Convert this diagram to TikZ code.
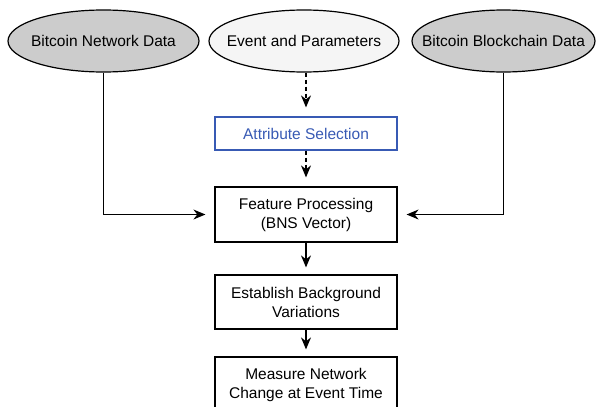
\documentclass[tikz,border=0pt]{standalone}
\usepackage{fontspec}
\setmainfont{Liberation Sans}
\usetikzlibrary{shapes.geometric,arrows.meta}
\begin{document}
\begin{tikzpicture}[x=1pt,y=-1pt,
    font=\fontsize{15.5}{19}\selectfont,
    src/.style={ellipse,draw,line width=1.2pt,minimum height=62pt,inner sep=0pt},
    box/.style={draw,line width=1.2pt,minimum width=182pt,align=center},
    arr/.style={-{Stealth[length=12pt,width=10pt]},line width=1.2pt,shorten >=9pt}]
        \definecolor{g}{RGB}{204,204,204}
        \definecolor{l}{RGB}{245,245,245}
        \definecolor{b}{RGB}{56,90,180}
        \useasboundingbox (0,0) rectangle (598,407);
        \node[src,fill=g,minimum width=191pt,label={center:Bitcoin Network Data}] (net) at (103.5,41) {};
        \node[src,fill=l,minimum width=190pt,label={center:Event and Parameters}] (par) at (304,41) {};
        \node[src,fill=g,minimum width=183pt,label={center:Bitcoin Blockchain Data}] (chain) at (503.5,41) {};
        \node[box,draw=b,text=b,minimum height=33pt] (attr) at (306,133.5) {Attribute Selection};
        \node[box,minimum height=55pt] (feat) at (306,214.5) {Feature Processing\\(BNS Vector)};
        \node[box,minimum height=54pt] (back) at (306,302) {Establish Background\\Variations};
        \node[box,minimum height=56pt] (meas) at (306,385) {Measure Network\\Change at Event Time};
        \draw[arr,dash pattern=on 4pt off 3pt] (attr.north |- par.south) -- (attr.north);
        \draw[arr,dash pattern=on 4pt off 3pt] (attr) -- (feat);
        \draw[arr] (net.south) |- (feat.west);
        \draw[arr] (chain.south) |- (feat.east);
        \draw[arr,shorten >=7pt] (feat) -- (back);
        \draw[arr,shorten >=7pt] (back) -- (meas);
\end{tikzpicture}
\end{document}
